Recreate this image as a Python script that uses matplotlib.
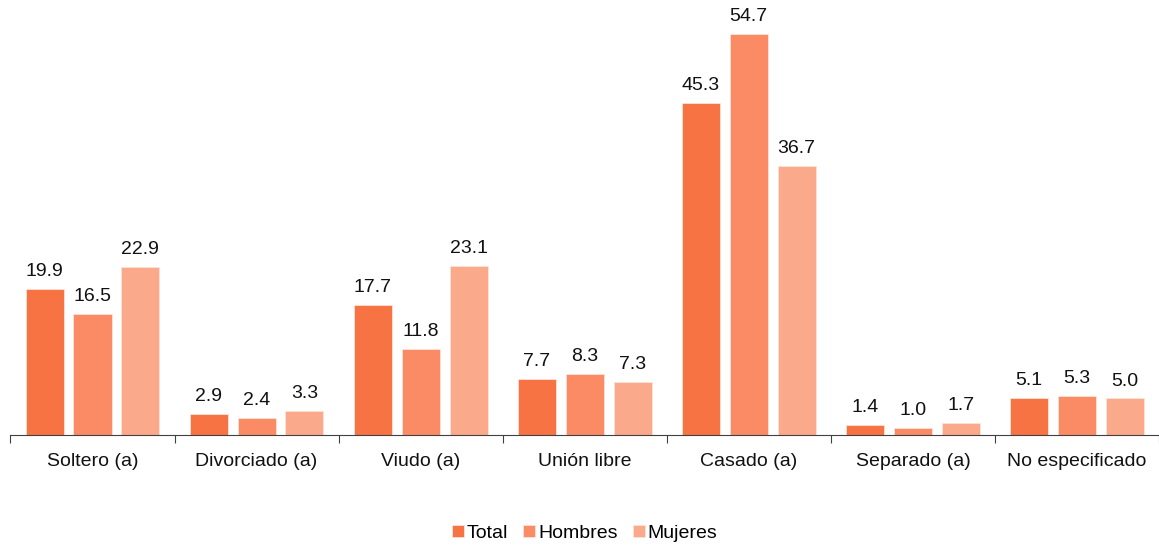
import matplotlib.pyplot as plt
import numpy as np

plt.rcParams['font.family'] = ['Liberation Sans', 'DejaVu Sans']

categories = ["Soltero (a)", "Divorciado (a)", "Viudo (a)", "Unión libre",
              "Casado (a)", "Separado (a)", "No especificado"]
total = [19.9, 2.9, 17.7, 7.7, 45.3, 1.4, 5.1]
hombres = [16.5, 2.4, 11.8, 8.3, 54.7, 1.0, 5.3]
mujeres = [22.9, 3.3, 23.1, 7.3, 36.7, 1.7, 5.0]
series = [("Total", total, "#F87343"),
          ("Hombres", hombres, "#FB8B65"),
          ("Mujeres", mujeres, "#FBA98B")]

fig = plt.figure(figsize=(11.59, 5.46), dpi=100)
ax = fig.add_axes([0.009, 0.203, 0.991, 0.797])

x = np.arange(len(categories))
w = 0.232
step = 0.292
for i, (name, vals, col) in enumerate(series):
    pos = x + (i - 1) * step
    ax.bar(pos, vals, width=w, color=col, label=name, edgecolor="#FDE3D8", linewidth=0.6)
    for px, v in zip(pos, vals):
        ax.text(px, v + 1.2, f"{v:.1f}", ha="center", va="bottom", fontsize=14, color="#111111")

ax.set_xlim(-0.5, len(categories) - 0.5)
ax.set_ylim(0, 59.3)
for s in ["top", "right", "left"]:
    ax.spines[s].set_visible(False)
ax.spines["bottom"].set_color("#404040")
ax.set_yticks([])
ax.set_xticks(np.arange(len(categories) + 1) - 0.5)
ax.set_xticklabels([])
ax.set_xticks(x, minor=True)
ax.set_xticklabels(categories, minor=True, fontsize=14, color="#111111")
ax.tick_params(axis="x", which="major", length=6, color="#404040", direction="out")
ax.tick_params(axis="x", which="minor", length=0, pad=13)

ax.legend(loc="center", bbox_to_anchor=(0.5, -0.225), ncol=3, frameon=False,
          fontsize=14, handlelength=0.6, handleheight=0.6, handletextpad=0.15,
          columnspacing=0.8)

fig.savefig("out.png", dpi=100)
